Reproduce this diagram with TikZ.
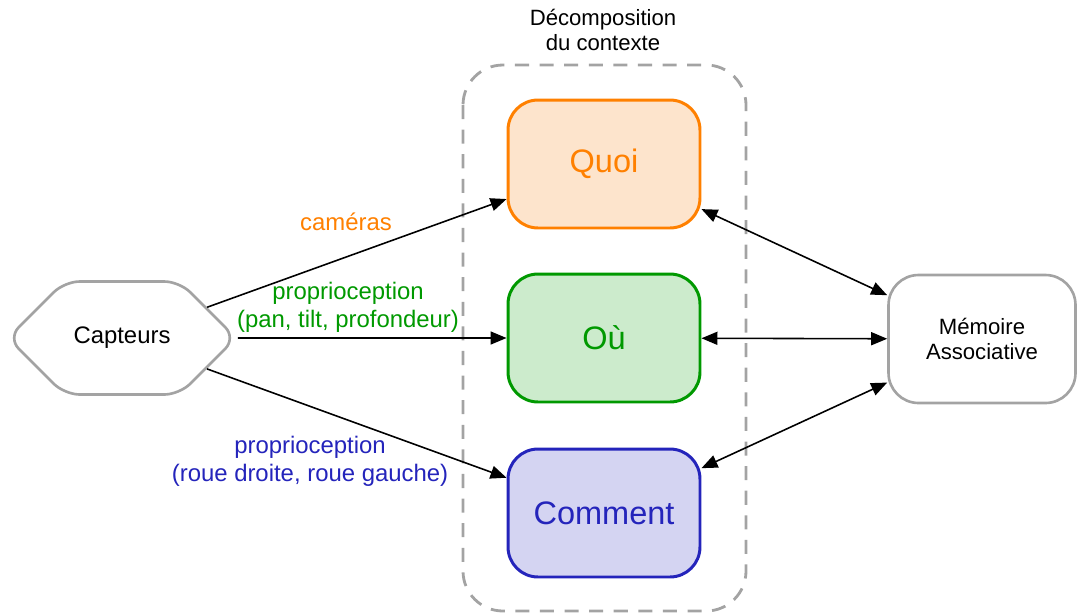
\documentclass[tikz,border=0pt]{standalone}
\usepackage{fontspec}
\setmainfont{Liberation Sans}
\usetikzlibrary{arrows.meta,shapes.symbols}
\definecolor{quoiline}{HTML}{FF8000}
\definecolor{quoifill}{HTML}{FDE4CC}
\definecolor{ouline}{HTML}{009900}
\definecolor{oufill}{HTML}{CCEBCC}
\definecolor{commline}{HTML}{2424BB}
\definecolor{commfill}{HTML}{D4D4F2}
\definecolor{bordgris}{HTML}{A3A3A3}
\begin{document}
\begin{tikzpicture}[x=0.02cm,y=-0.02cm,
				every node/.style={align=center,font=\fontsize{13.6}{16}\selectfont},
				contexte/.style={draw,rounded corners=0.6cm,minimum width=3.84cm,minimum height=2.56cm,line width=1.7pt,font=\fontsize{18.5}{22}\selectfont},
				fleche/.style={line width=0.9pt,-{Triangle[length=3.2mm,width=2.6mm]}},
				bifleche/.style={line width=0.9pt,{Triangle[length=3.2mm,width=2.6mm]}-{Triangle[length=3.2mm,width=2.6mm]}}]
\useasboundingbox (0,0) rectangle (1077,613);
\draw[bordgris,line width=1.6pt,dash pattern=on 8pt off 6pt,rounded corners=0.8cm] (463,65) rectangle (746,611);
\node[font=\fontsize{12.6}{14.7}\selectfont] (titre) at (603,30) {Décomposition\\du contexte};
\node[contexte,quoiline,fill=quoifill] (quoi) at (604,164) {Quoi};
\node[contexte,ouline,fill=oufill] (ou) at (604,338) {Où};
\node[contexte,commline,fill=commfill] (comment) at (604,513) {Comment};
\node[draw=bordgris,line width=1.5pt,signal,signal to=east and west,rounded corners=0.3cm,
	minimum width=4.56cm,minimum height=2.26cm] (capteurs) at (122,338) {Capteurs};
\node[draw=bordgris,line width=1.5pt,rounded corners=0.6cm,minimum width=3.74cm,minimum height=2.56cm,
	font=\fontsize{12.6}{14.2}\selectfont] (memoire) at (982,339) {Mémoire\\Associative};
\draw[fleche] (capteurs) -- (quoi);
\draw[fleche] (capteurs) -- (ou);
\draw[fleche] (capteurs) -- (comment);
\draw[bifleche] (quoi) -- (memoire);
\draw[bifleche] (ou) -- (memoire);
\draw[bifleche] (comment) -- (memoire);
\node[text=quoiline] (lcam) at (346,222) {caméras};
\node[text=ouline] (lpan) at (348,307) {proprioception\\(pan, tilt, profondeur)};
\node[text=commline] (lroue) at (310,461) {proprioception\\(roue droite, roue gauche)};
\end{tikzpicture}
\end{document}
